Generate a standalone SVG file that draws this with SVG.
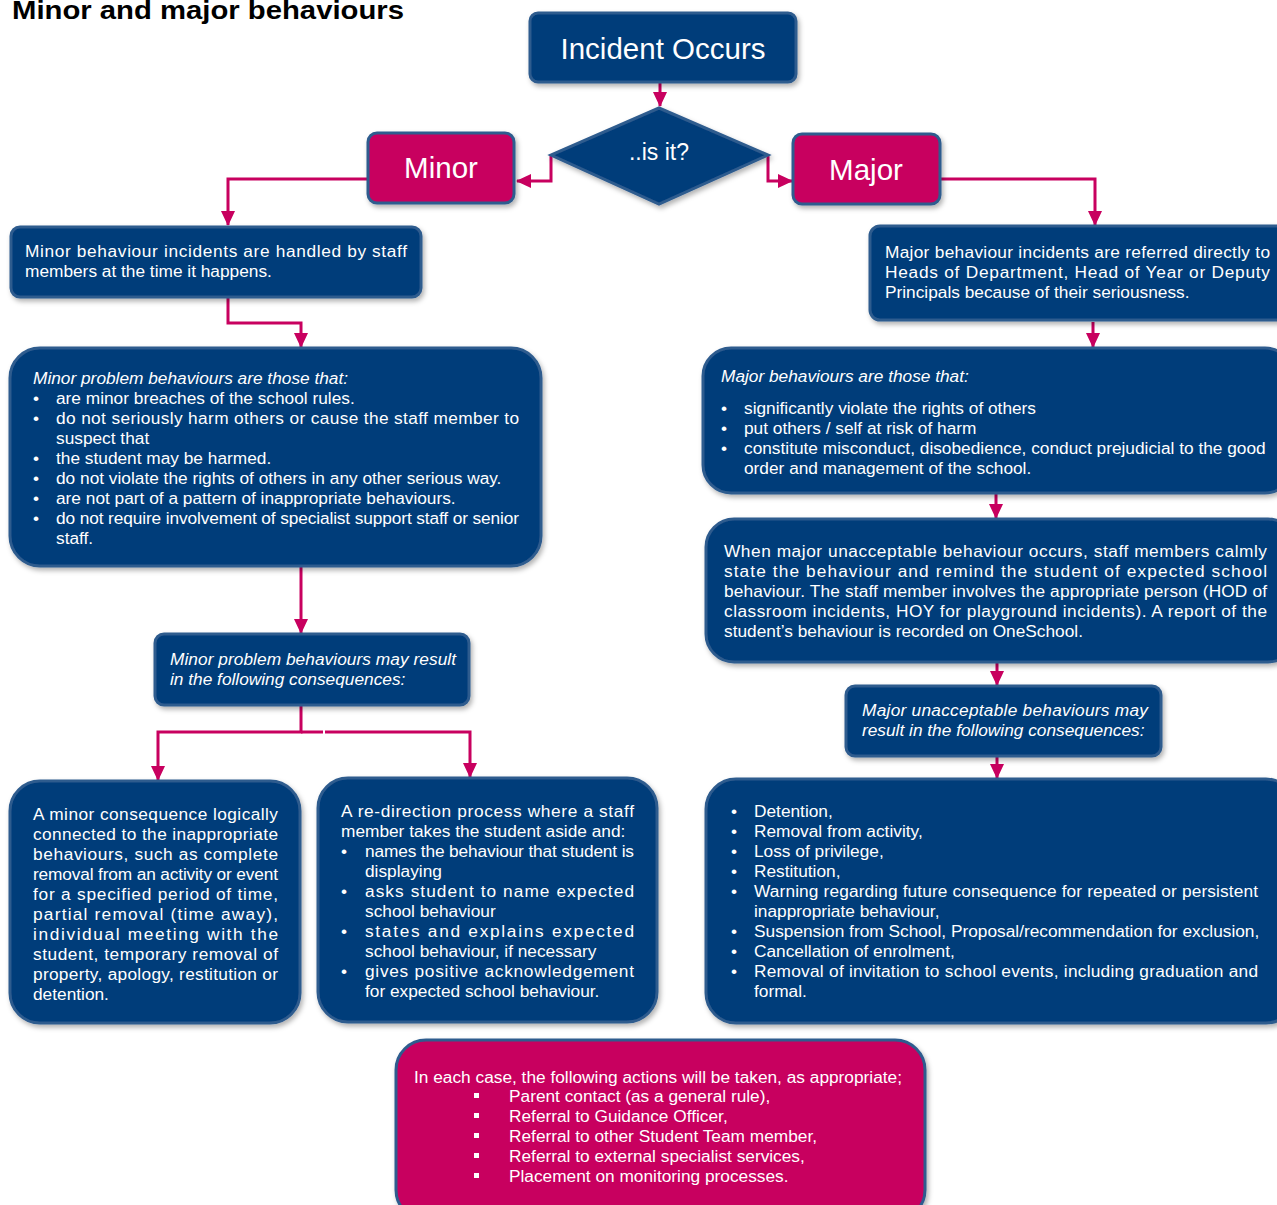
<svg xmlns="http://www.w3.org/2000/svg" width="1277" height="1205" viewBox="0 0 1277 1205">
<style>
.box{fill:#033c7a;stroke:#2e5b8e;stroke-width:3}
.mag{fill:#c8005f;stroke:#2e5b8e;stroke-width:3}
.t{font-family:"Liberation Sans",Arial,sans-serif;font-size:17.3px;fill:#ffffff}
.i{font-style:italic}
.big{font-family:"Liberation Sans",Arial,sans-serif;font-size:29.5px;fill:#ffffff}
.con{fill:none;stroke:#c8005f;stroke-width:3}
.title{font-family:"Liberation Sans",Arial,sans-serif;font-size:26px;font-weight:bold;fill:#000000}
</style>
<defs>
<filter id="sh" x="-10%" y="-10%" width="120%" height="130%">
<feDropShadow dx="2" dy="3" stdDeviation="2.5" flood-color="#000000" flood-opacity="0.3"/>
</filter>
<marker id="ah" markerUnits="userSpaceOnUse" markerWidth="16" markerHeight="16" viewBox="0 0 16 16" refX="14" refY="8" orient="auto">
<path d="M0,1 L15,8 L0,15 Z" fill="#c8005f"/>
</marker>
</defs>
<rect width="1277" height="1205" fill="#ffffff"/>
<text class="title" x="12" y="19" textLength="392" lengthAdjust="spacingAndGlyphs">Minor and major behaviours</text>

<g id="connectors">
<path class="con" d="M660,82 V106" marker-end="url(#ah)"/>
<path class="con" d="M551,155 V181 H517" marker-end="url(#ah)"/>
<path class="con" d="M768,155 V181 H792" marker-end="url(#ah)"/>
<path class="con" d="M368,179 H228 V225" marker-end="url(#ah)"/>
<path class="con" d="M940,179 H1095 V225" marker-end="url(#ah)"/>
<path class="con" d="M228,298 V323 H301 V347" marker-end="url(#ah)"/>
<path class="con" d="M301,566 V633" marker-end="url(#ah)"/>
<path class="con" d="M301,705 V732 H158 V780" marker-end="url(#ah)"/>
<path class="con" d="M301,732 H323"/>
<path class="con" d="M325,732 H470 V777" marker-end="url(#ah)"/>
<path class="con" d="M1093,322 V347" marker-end="url(#ah)"/>
<path class="con" d="M996,494 V518" marker-end="url(#ah)"/>
<path class="con" d="M997,662 V685" marker-end="url(#ah)"/>
<path class="con" d="M997,756 V778" marker-end="url(#ah)"/>
</g>

<g id="incident">
<rect class="box" filter="url(#sh)" x="530" y="13" width="266" height="69" rx="8"/>
<text class="big" x="663" y="59" text-anchor="middle">Incident Occurs</text>
</g>

<g id="decision">
<polygon class="box" filter="url(#sh)" points="659,108 768,155 659,204 551,155"/>
<text class="t" x="659" y="160" text-anchor="middle" style="font-size:23px">..is it?</text>
</g>

<g id="minor">
<rect class="mag" filter="url(#sh)" x="368" y="133" width="146" height="70" rx="9"/>
<text class="big" x="441" y="178" text-anchor="middle">Minor</text>
</g>

<g id="major">
<rect class="mag" filter="url(#sh)" x="793" y="134" width="147" height="70" rx="9"/>
<text class="big" x="866" y="180" text-anchor="middle">Major</text>
</g>

<g id="minor-handled">
<rect class="box" filter="url(#sh)" x="11" y="227" width="410" height="70" rx="9"/>
<text class="t" x="25" y="257" textLength="382" lengthAdjust="spacing">Minor behaviour incidents are handled by staff</text>
<text class="t" x="25" y="277">members at the time it happens.</text>
</g>

<g id="minor-def">
<rect class="box" filter="url(#sh)" x="10" y="348" width="531" height="218" rx="30"/>
<text class="t i" x="33" y="384">Minor problem behaviours are those that:</text>
<text class="t" x="33" y="404">•</text><text class="t" x="56" y="404">are minor breaches of the school rules.</text>
<text class="t" x="33" y="424">•</text><text class="t" x="56" y="424" textLength="463" lengthAdjust="spacing">do not seriously harm others or cause the staff member to</text>
<text class="t" x="56" y="444">suspect that</text>
<text class="t" x="33" y="464">•</text><text class="t" x="56" y="464">the student may be harmed.</text>
<text class="t" x="33" y="484">•</text><text class="t" x="56" y="484">do not violate the rights of others in any other serious way.</text>
<text class="t" x="33" y="504">•</text><text class="t" x="56" y="504">are not part of a pattern of inappropriate behaviours.</text>
<text class="t" x="33" y="524">•</text><text class="t" x="56" y="524" textLength="463" lengthAdjust="spacing">do not require involvement of specialist support staff or senior</text>
<text class="t" x="56" y="544">staff.</text>
</g>

<g id="minor-result">
<rect class="box" filter="url(#sh)" x="155" y="634" width="314" height="71" rx="9"/>
<text class="t i" x="170" y="665" textLength="286" lengthAdjust="spacing">Minor problem behaviours may result</text>
<text class="t i" x="170" y="685">in the following consequences:</text>
</g>

<g id="minor-consequence">
<rect class="box" filter="url(#sh)" x="10" y="781" width="290" height="242" rx="30"/>
<text class="t" x="33" y="820" textLength="245" lengthAdjust="spacing">A minor consequence logically</text>
<text class="t" x="33" y="840" textLength="245" lengthAdjust="spacing">connected to the inappropriate</text>
<text class="t" x="33" y="860" textLength="245" lengthAdjust="spacing">behaviours, such as complete</text>
<text class="t" x="33" y="880" textLength="245" lengthAdjust="spacing">removal from an activity or event</text>
<text class="t" x="33" y="900" textLength="245" lengthAdjust="spacing">for a specified period of time,</text>
<text class="t" x="33" y="920" textLength="245" lengthAdjust="spacing">partial removal (time away),</text>
<text class="t" x="33" y="940" textLength="245" lengthAdjust="spacing">individual meeting with the</text>
<text class="t" x="33" y="960" textLength="245" lengthAdjust="spacing">student, temporary removal of</text>
<text class="t" x="33" y="980" textLength="245" lengthAdjust="spacing">property, apology, restitution or</text>
<text class="t" x="33" y="1000">detention.</text>
</g>

<g id="redirection">
<rect class="box" filter="url(#sh)" x="318" y="778" width="339" height="244" rx="30"/>
<text class="t" x="341" y="817" textLength="293" lengthAdjust="spacing">A re-direction process where a staff</text>
<text class="t" x="341" y="837">member takes the student aside and:</text>
<text class="t" x="341" y="857">•</text><text class="t" x="365" y="857" textLength="269" lengthAdjust="spacing">names the behaviour that student is</text>
<text class="t" x="365" y="877">displaying</text>
<text class="t" x="341" y="897">•</text><text class="t" x="365" y="897" textLength="269" lengthAdjust="spacing">asks student to name expected</text>
<text class="t" x="365" y="917">school behaviour</text>
<text class="t" x="341" y="937">•</text><text class="t" x="365" y="937" textLength="269" lengthAdjust="spacing">states and explains expected</text>
<text class="t" x="365" y="957">school behaviour, if necessary</text>
<text class="t" x="341" y="977">•</text><text class="t" x="365" y="977" textLength="269" lengthAdjust="spacing">gives positive acknowledgement</text>
<text class="t" x="365" y="997">for expected school behaviour.</text>
</g>

<g id="major-referred">
<rect class="box" filter="url(#sh)" x="870" y="226" width="420" height="94" rx="10"/>
<text class="t" x="885" y="258" textLength="385" lengthAdjust="spacing">Major behaviour incidents are referred directly to</text>
<text class="t" x="885" y="278" textLength="385" lengthAdjust="spacing">Heads of Department, Head of Year or Deputy</text>
<text class="t" x="885" y="298">Principals because of their seriousness.</text>
</g>

<g id="major-def">
<rect class="box" filter="url(#sh)" x="703" y="348" width="590" height="145" rx="28"/>
<text class="t i" x="721" y="382">Major behaviours are those that:</text>
<text class="t" x="721" y="414">•</text><text class="t" x="744" y="414">significantly violate the rights of others</text>
<text class="t" x="721" y="434">•</text><text class="t" x="744" y="434">put others / self at risk of harm</text>
<text class="t" x="721" y="454">•</text><text class="t" x="744" y="454">constitute misconduct, disobedience, conduct prejudicial to the good</text>
<text class="t" x="744" y="474">order and management of the school.</text>
</g>

<g id="major-response">
<rect class="box" filter="url(#sh)" x="706" y="519" width="590" height="143" rx="28"/>
<text class="t" x="724" y="557" textLength="543" lengthAdjust="spacing">When major unacceptable behaviour occurs, staff members calmly</text>
<text class="t" x="724" y="577" textLength="543" lengthAdjust="spacing">state the behaviour and remind the student of expected school</text>
<text class="t" x="724" y="597" textLength="543" lengthAdjust="spacing">behaviour. The staff member involves the appropriate person (HOD of</text>
<text class="t" x="724" y="617" textLength="543" lengthAdjust="spacing">classroom incidents, HOY for playground incidents). A report of the</text>
<text class="t" x="724" y="637">student’s behaviour is recorded on OneSchool.</text>
</g>

<g id="major-result">
<rect class="box" filter="url(#sh)" x="846" y="686" width="315" height="70" rx="9"/>
<text class="t i" x="862" y="716" textLength="286" lengthAdjust="spacing">Major unacceptable behaviours may</text>
<text class="t i" x="862" y="736">result in the following consequences:</text>
</g>

<g id="major-consequence">
<rect class="box" filter="url(#sh)" x="706" y="779" width="590" height="244" rx="30"/>
<text class="t" x="731" y="817">•</text><text class="t" x="754" y="817">Detention,</text>
<text class="t" x="731" y="837">•</text><text class="t" x="754" y="837">Removal from activity,</text>
<text class="t" x="731" y="857">•</text><text class="t" x="754" y="857">Loss of privilege,</text>
<text class="t" x="731" y="877">•</text><text class="t" x="754" y="877">Restitution,</text>
<text class="t" x="731" y="897">•</text><text class="t" x="754" y="897" textLength="504" lengthAdjust="spacing">Warning regarding future consequence for repeated or persistent</text>
<text class="t" x="754" y="917">inappropriate behaviour,</text>
<text class="t" x="731" y="937">•</text><text class="t" x="754" y="937">Suspension from School, Proposal/recommendation for exclusion,</text>
<text class="t" x="731" y="957">•</text><text class="t" x="754" y="957">Cancellation of enrolment,</text>
<text class="t" x="731" y="977">•</text><text class="t" x="754" y="977" textLength="504" lengthAdjust="spacing">Removal of invitation to school events, including graduation and</text>
<text class="t" x="754" y="997">formal.</text>
</g>

<g id="actions">
<rect class="mag" filter="url(#sh)" x="396" y="1040" width="529" height="180" rx="30"/>
<text class="t" x="414" y="1083">In each case, the following actions will be taken, as appropriate;</text>
<rect x="474" y="1093" width="5" height="5" fill="#ffffff"/><text class="t" x="509" y="1102">Parent contact (as a general rule),</text>
<rect x="474" y="1113" width="5" height="5" fill="#ffffff"/><text class="t" x="509" y="1122">Referral to Guidance Officer,</text>
<rect x="474" y="1133" width="5" height="5" fill="#ffffff"/><text class="t" x="509" y="1142">Referral to other Student Team member,</text>
<rect x="474" y="1153" width="5" height="5" fill="#ffffff"/><text class="t" x="509" y="1162">Referral to external specialist services,</text>
<rect x="474" y="1173" width="5" height="5" fill="#ffffff"/><text class="t" x="509" y="1182">Placement on monitoring processes.</text>
</g>
</svg>
